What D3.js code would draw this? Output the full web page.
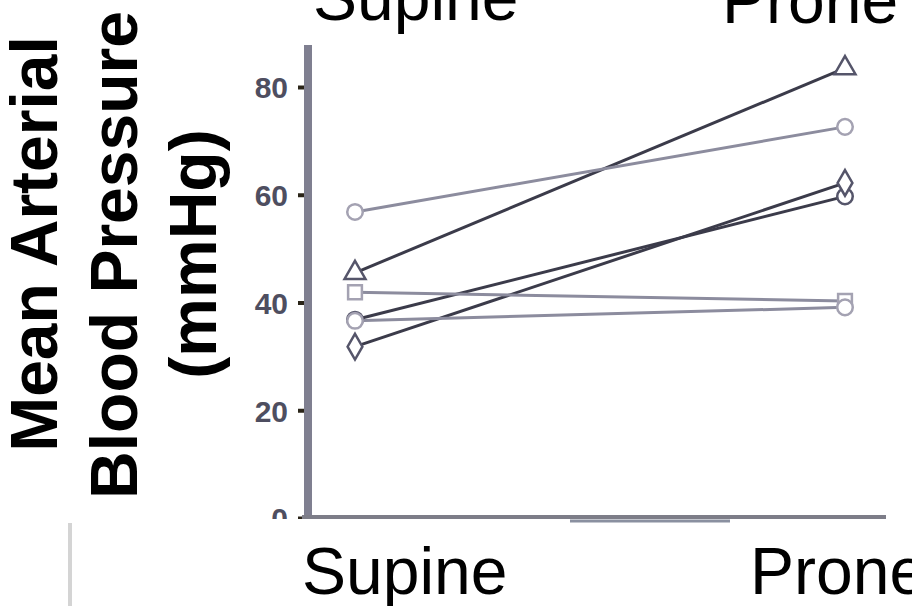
<!DOCTYPE html>
<html>
<head>
<meta charset="utf-8">
<script src="https://cdn.jsdelivr.net/npm/d3@7"></script>
<style>
  body { margin: 0; background: white; }
  svg { display: block; }
  text { font-family: "Liberation Sans", Arial, sans-serif; }
</style>
</head>
<body>
<div id="chart"></div>
<script>
// data
const positions = ["Supine", "Prone"];
const supine = [45.5, 56.8, 36.8, 31.8, 41.9, 36.6];
const prone = [83.5, 72.6, 59.7, 62.2, 40.3, 39.1];
const subjectSymbols = ["triangle", "circle", "circle", "diamond", "square", "circle"];
const subjectShade = ["dark", "light", "dark", "dark", "light", "light"];
const yTicks = [0, 20, 40, 60, 80];
const titleLines = ["Mean Arterial", "Blood Pressure", "(mmHg)"];

const width = 912, height = 606;

const svg = d3.select("#chart")
	.append("svg")
	.attr("width", width)
	.attr("height", height);

const x = d3.scalePoint()
	.domain(positions)
	.range([355, 845]);

const y = d3.scaleLinear()
	.domain([0, 80])
	.range([518, 87]);

const symbolType = {
	circle: d3.symbolCircle,
	square: d3.symbolSquare,
	triangle: d3.symbolTriangle,
	diamond: d3.symbolDiamond
};

const shade = {
	dark: { line: "#3b3b4a", mark: "#55556a" },
	light: { line: "#8c8c9e", mark: "#a4a2b2" }
};

// build one row per subject
const subjects = supine.map((v, i) => ({
	values: [v, prone[i]],
	symbol: subjectSymbols[i],
	shade: subjectShade[i]
}));

// y axis title, three rotated lines
const titleX = [57, 137, 216];
const titleY = [244, 255, 254];
svg.selectAll(".ytitle")
	.data(titleLines)
	.enter()
	.append("text")
	.attr("class", "ytitle")
	.attr("transform", (d, i) => `translate(${titleX[i]},${titleY[i]}) rotate(-90)`)
	.attr("text-anchor", "middle")
	.style("font-size", "66px")
	.style("font-weight", "bold")
	.attr("fill", "#000")
	.text(d => d);

// category labels top and bottom
svg.selectAll(".toplabel")
	.data(positions)
	.enter()
	.append("text")
	.attr("class", "toplabel")
	.attr("x", (d, i) => i === 0 ? 313 : 722)
	.attr("y", (d, i) => i === 0 ? 20 : 23)
	.style("font-size", "66px")
	.attr("fill", "#000")
	.text(d => d);

svg.selectAll(".botlabel")
	.data(positions)
	.enter()
	.append("text")
	.attr("class", "botlabel")
	.attr("x", (d, i) => i === 0 ? 302 : 750)
	.attr("y", 594)
	.style("font-size", "66px")
	.attr("fill", "#000")
	.text(d => d);

// stray grey rule in the lower left of the scan
svg.append("line")
	.attr("x1", 70).attr("x2", 70)
	.attr("y1", 523).attr("y2", height)
	.attr("stroke", "#d4d4d4")
	.attr("stroke-width", 4);

// y axis, the "0" label is half hidden in the scan
svg.append("defs").append("clipPath")
	.attr("id", "tickclip")
	.append("rect")
	.attr("x", -120).attr("y", 0)
	.attr("width", 120).attr("height", 519);

const yAxis = svg.append("g")
	.attr("transform", "translate(304,0)")
	.attr("clip-path", "url(#tickclip)")
	.call(d3.axisLeft(y).tickValues(yTicks).tickSize(6).tickPadding(10));

yAxis.select(".domain").remove();
yAxis.selectAll(".tick line")
	.attr("stroke", "#2a2418")
	.attr("stroke-width", 4);
yAxis.selectAll(".tick text")
	.style("font-size", "30px")
	.style("font-weight", "bold")
	.attr("fill", "#4e4e60")
	.attr("dy", "0.36em");

svg.append("line")
	.attr("x1", 308).attr("x2", 308)
	.attr("y1", 45).attr("y2", 519)
	.attr("stroke", "#7f7f90")
	.attr("stroke-width", 8);

// x axis
svg.append("line")
	.attr("x1", 302).attr("x2", 886)
	.attr("y1", 517).attr("y2", 517)
	.attr("stroke", "#7d7d88")
	.attr("stroke-width", 4);

svg.append("line")
	.attr("x1", 570).attr("x2", 730)
	.attr("y1", 521).attr("y2", 521)
	.attr("stroke", "#8a90a0")
	.attr("stroke-width", 3);

// subject lines
const lineFunction = d3.line()
	.x((d, i) => x(positions[i]))
	.y(d => y(d));

svg.selectAll(".subject")
	.data(subjects)
	.enter()
	.append("path")
	.attr("class", "subject")
	.attr("d", d => lineFunction(d.values))
	.attr("fill", "none")
	.attr("stroke", d => shade[d.shade].line)
	.attr("stroke-width", 3);

// markers
svg.selectAll(".marker")
	.data(subjects.flatMap(s => s.values.map((v, i) => ({ v: v, pos: positions[i], s: s }))))
	.enter()
	.append("path")
	.attr("class", "marker")
	.attr("transform", d => `translate(${x(d.pos)},${y(d.v)})`)
	.attr("d", d => d3.symbol().type(symbolType[d.s.symbol]).size(190)())
	.attr("fill", "white")
	.attr("stroke", d => shade[d.s.shade].mark)
	.attr("stroke-width", 2.5);
</script>
</body>
</html>
